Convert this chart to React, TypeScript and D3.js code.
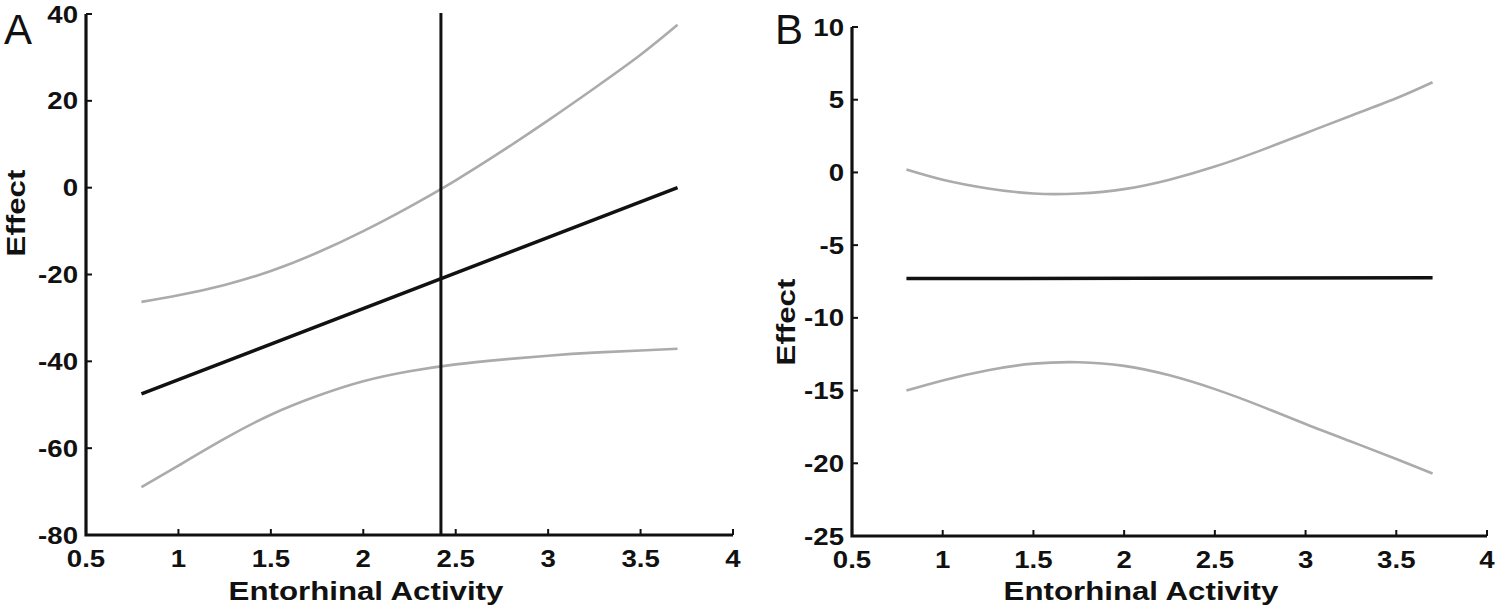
import React from "react";
import * as d3 from "d3";

const xTicks = [0.5, 1, 1.5, 2, 2.5, 3, 3.5, 4];
const xTickLabels = ["0.5", "1", "1.5", "2", "2.5", "3", "3.5", "4"];
const yTicksA = [-80, -60, -40, -20, 0, 20, 40];
const yTicksB = [-25, -20, -15, -10, -5, 0, 5, 10];

const gridX = [0.8, 1.0, 1.25, 1.5, 1.75, 2.0, 2.25, 2.5, 2.75, 3.0, 3.25, 3.5, 3.7];
const upperA = [-26.3, -24.8, -22.4, -19.2, -15.0, -10.0, -4.4, 1.7, 8.4, 15.5, 22.9, 30.6, 37.5];
const lowerA = [-69, -64, -57.8, -52.3, -48.0, -44.6, -42.3, -40.7, -39.6, -38.7, -38.0, -37.5, -37.1];
const meanX = [0.8, 3.7];
const meanA = [-47.5, 0];
const markerA = 2.42;

const upperB = [0.2, -0.5, -1.1, -1.45, -1.45, -1.15, -0.5, 0.4, 1.5, 2.7, 3.9, 5.1, 6.2];
const lowerB = [-15.0, -14.3, -13.6, -13.15, -13.05, -13.3, -13.95, -14.9, -16.05, -17.3, -18.5, -19.7, -20.7];
const meanB = [-7.3, -7.25];

const FONT = "'Liberation Sans', Arial, Helvetica, sans-serif";
const GRAY = "#ababab";

type PanelProps = {
  letter: string;
  xRange: [number, number];
  yDomain: [number, number];
  yRange: [number, number];
  yTicks: number[];
  upper: number[];
  lower: number[];
  mean: number[];
  marker?: number;
  letterX: number;
  xTitleX: number;
  yTitleX: number;
  yTitleY: number;
};

function Panel(p: PanelProps) {
  const x = d3.scaleLinear().domain([0.5, 4]).range(p.xRange);
  const y = d3.scaleLinear().domain(p.yDomain).range(p.yRange);
  const curve = d3
    .line<number>()
    .x((_, i) => x(gridX[i]))
    .y((d) => y(d))
    .curve(d3.curveNatural);
  const straight = d3
    .line<number>()
    .x((_, i) => x(meanX[i]))
    .y((d) => y(d));
  const x0 = p.xRange[0];
  const x1 = p.xRange[1];
  const yBottom = p.yRange[0];
  const yTop = p.yRange[1];
  const tickLen = 6;
  return (
    <g>
      <text x={p.letterX} y={44} fontFamily={FONT} fontSize={42} fill="#111">
        {p.letter}
      </text>
      <path d={curve(p.upper) || ""} fill="none" stroke={GRAY} strokeWidth={2.6} />
      <path d={curve(p.lower) || ""} fill="none" stroke={GRAY} strokeWidth={2.6} />
      <path d={straight(p.mean) || ""} fill="none" stroke="#111" strokeWidth={3.5} />
      {p.marker !== undefined && (
        <line
          x1={x(p.marker)}
          x2={x(p.marker)}
          y1={yTop - 1}
          y2={yBottom}
          stroke="#111"
          strokeWidth={3}
        />
      )}
      <path
        d={`M${x0},${yTop} V${yBottom} H${x1}`}
        fill="none"
        stroke="#111"
        strokeWidth={3.2}
      />
      {p.yTicks.map((t) => (
        <g key={"y" + t}>
          <line x1={x0} x2={x0 + tickLen} y1={y(t)} y2={y(t)} stroke="#111" strokeWidth={2} />
          <text
            transform={`translate(${x0 - 8},${y(t) + 8.5}) scale(1.15,1)`}
            textAnchor="end"
            fontFamily={FONT}
            fontWeight="bold"
            fontSize={24}
            fill="#111"
          >
            {String(t)}
          </text>
        </g>
      ))}
      {xTicks.map((t, i) => (
        <g key={"x" + t}>
          <line x1={x(t)} x2={x(t)} y1={yBottom} y2={yBottom - tickLen} stroke="#111" strokeWidth={2} />
          <text
            transform={`translate(${x(t)},${yBottom + 32}) scale(1.15,1)`}
            textAnchor="middle"
            fontFamily={FONT}
            fontWeight="bold"
            fontSize={24}
            fill="#111"
          >
            {xTickLabels[i]}
          </text>
        </g>
      ))}
      <text
        transform={`translate(${p.xTitleX},${600}) scale(1.25,1)`}
        textAnchor="middle"
        fontFamily={FONT}
        fontWeight="bold"
        fontSize={25}
        fill="#111"
      >
        Entorhinal Activity
      </text>
      <text
        transform={`translate(${p.yTitleX},${p.yTitleY}) rotate(-90) scale(1.25,1)`}
        textAnchor="middle"
        fontFamily={FONT}
        fontWeight="bold"
        fontSize={25}
        fill="#111"
      >
        Effect
      </text>
    </g>
  );
}

export default function App() {
  return (
    <svg
      width={1498}
      height={607}
      style={{ position: "absolute", left: 0, top: 0, background: "#fff" }}
    >
      <rect width={1498} height={607} fill="#fff" />
      <Panel
        letter="A"
        xRange={[86, 733]}
        yDomain={[-80, 40]}
        yRange={[535, 14]}
        yTicks={yTicksA}
        upper={upperA}
        lower={lowerA}
        mean={meanA}
        marker={markerA}
        letterX={4}
        xTitleX={366}
        yTitleX={25}
        yTitleY={213}
      />
      <Panel
        letter="B"
        xRange={[852, 1487]}
        yDomain={[-25, 10]}
        yRange={[536, 27]}
        yTicks={yTicksB}
        upper={upperB}
        lower={lowerB}
        mean={meanB}
        letterX={775}
        xTitleX={1141}
        yTitleX={795}
        yTitleY={322}
      />
    </svg>
  );
}
